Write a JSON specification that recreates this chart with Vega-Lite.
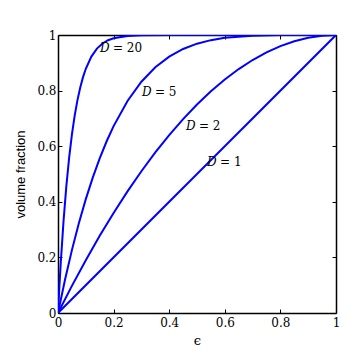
{
  "$schema": "https://vega.github.io/schema/vega-lite/v6.json",
  "autosize": "none",
  "width": 278,
  "height": 278,
  "padding": {"left": 58, "top": 35, "right": 27, "bottom": 46},
  "background": "white",
  "config": {
    "view": {"stroke": null},
    "axis": {
      "grid": false,
      "domainColor": "black",
      "domainWidth": 1.5,
      "tickColor": "black",
      "tickSize": -4,
      "tickWidth": 1,
      "labelFont": "DejaVu Serif",
      "labelFontSize": 12,
      "labelColor": "black",
      "labelFlush": false,
      "titleColor": "black",
      "format": "~g"
    }
  },
  "datasets": {
    "curves": [
      {"eps": 0, "frac": 0, "D": 1}, {"eps": 1, "frac": 1, "D": 1},
      {"eps": 0, "frac": 0, "D": 2}, {"eps": 0.05, "frac": 0.0975, "D": 2}, {"eps": 0.1, "frac": 0.19, "D": 2}, {"eps": 0.15, "frac": 0.2775, "D": 2}, {"eps": 0.2, "frac": 0.36, "D": 2}, {"eps": 0.25, "frac": 0.4375, "D": 2}, {"eps": 0.3, "frac": 0.51, "D": 2}, {"eps": 0.35, "frac": 0.5775, "D": 2}, {"eps": 0.4, "frac": 0.64, "D": 2}, {"eps": 0.45, "frac": 0.6975, "D": 2}, {"eps": 0.5, "frac": 0.75, "D": 2}, {"eps": 0.55, "frac": 0.7975, "D": 2}, {"eps": 0.6, "frac": 0.84, "D": 2}, {"eps": 0.65, "frac": 0.8775, "D": 2}, {"eps": 0.7, "frac": 0.91, "D": 2}, {"eps": 0.75, "frac": 0.9375, "D": 2}, {"eps": 0.8, "frac": 0.96, "D": 2}, {"eps": 0.85, "frac": 0.9775, "D": 2}, {"eps": 0.9, "frac": 0.99, "D": 2}, {"eps": 0.95, "frac": 0.9975, "D": 2}, {"eps": 1, "frac": 1, "D": 2},
      {"eps": 0, "frac": 0, "D": 5}, {"eps": 0.025, "frac": 0.1189, "D": 5}, {"eps": 0.05, "frac": 0.2262, "D": 5}, {"eps": 0.075, "frac": 0.3228, "D": 5}, {"eps": 0.1, "frac": 0.4095, "D": 5}, {"eps": 0.125, "frac": 0.4871, "D": 5}, {"eps": 0.15, "frac": 0.5563, "D": 5}, {"eps": 0.175, "frac": 0.6178, "D": 5}, {"eps": 0.2, "frac": 0.6723, "D": 5}, {"eps": 0.25, "frac": 0.7627, "D": 5}, {"eps": 0.3, "frac": 0.8319, "D": 5}, {"eps": 0.35, "frac": 0.884, "D": 5}, {"eps": 0.4, "frac": 0.9222, "D": 5}, {"eps": 0.45, "frac": 0.9497, "D": 5}, {"eps": 0.5, "frac": 0.96875, "D": 5}, {"eps": 0.55, "frac": 0.9815, "D": 5}, {"eps": 0.6, "frac": 0.9898, "D": 5}, {"eps": 0.7, "frac": 0.9976, "D": 5}, {"eps": 0.8, "frac": 0.9997, "D": 5}, {"eps": 0.9, "frac": 1, "D": 5}, {"eps": 1, "frac": 1, "D": 5},
      {"eps": 0, "frac": 0, "D": 20}, {"eps": 0.005, "frac": 0.0954, "D": 20}, {"eps": 0.01, "frac": 0.1821, "D": 20}, {"eps": 0.02, "frac": 0.3324, "D": 20}, {"eps": 0.03, "frac": 0.4562, "D": 20}, {"eps": 0.04, "frac": 0.558, "D": 20}, {"eps": 0.05, "frac": 0.6415, "D": 20}, {"eps": 0.06, "frac": 0.7099, "D": 20}, {"eps": 0.07, "frac": 0.7658, "D": 20}, {"eps": 0.08, "frac": 0.8113, "D": 20}, {"eps": 0.09, "frac": 0.8484, "D": 20}, {"eps": 0.1, "frac": 0.8784, "D": 20}, {"eps": 0.12, "frac": 0.9224, "D": 20}, {"eps": 0.14, "frac": 0.951, "D": 20}, {"eps": 0.16, "frac": 0.9694, "D": 20}, {"eps": 0.18, "frac": 0.9811, "D": 20}, {"eps": 0.2, "frac": 0.9885, "D": 20}, {"eps": 0.25, "frac": 0.9968, "D": 20}, {"eps": 0.3, "frac": 0.9992, "D": 20}, {"eps": 0.4, "frac": 1, "D": 20}, {"eps": 1, "frac": 1, "D": 20}
    ],
    "labels": [
      {"eps": 0.151, "frac": 0.953, "D": 20, "rhs": "= 20"},
      {"eps": 0.302, "frac": 0.795, "D": 5, "rhs": "= 5"},
      {"eps": 0.46, "frac": 0.673, "D": 2, "rhs": "= 2"},
      {"eps": 0.536, "frac": 0.543, "D": 1, "rhs": "= 1"}
    ]
  },
  "resolve": {"axis": {"x": "independent", "y": "independent"}},
  "layer": [
    {
      "data": {"name": "curves"},
      "mark": {"type": "line", "color": "#0000ff", "strokeWidth": 2, "clip": true},
      "encoding": {
        "x": {"field": "eps", "type": "quantitative", "scale": {"domain": [0, 1], "nice": false},
              "axis": {"values": [0, 0.2, 0.4, 0.6, 0.8, 1], "title": "ϵ", "titleFont": "DejaVu Serif", "titleFontWeight": "normal", "titleFontSize": 13, "titlePadding": 6, "labelPadding": 8}},
        "y": {"field": "frac", "type": "quantitative", "scale": {"domain": [0, 1], "nice": false},
              "axis": {"values": [0, 0.2, 0.4, 0.6, 0.8, 1], "title": "volume fraction", "titleFont": "Liberation Sans", "titleFontWeight": "normal", "titleFontSize": 13, "titlePadding": 9, "labelPadding": 6}},
        "detail": {"field": "D", "type": "nominal"},
        "order": {"field": "eps", "type": "quantitative"}
      }
    },
    {
      "data": {"name": "labels"},
      "mark": {"type": "text", "text": "D", "align": "left", "baseline": "middle", "font": "DejaVu Serif", "fontStyle": "italic", "fontSize": 12, "color": "black"},
      "encoding": {
        "x": {"field": "eps", "type": "quantitative", "axis": {"orient": "top", "values": [0, 0.2, 0.4, 0.6, 0.8, 1], "labels": false, "title": null}},
        "y": {"field": "frac", "type": "quantitative", "axis": {"orient": "right", "values": [0, 0.2, 0.4, 0.6, 0.8, 1], "labels": false, "title": null}}
      }
    },
    {
      "data": {"name": "labels"},
      "mark": {"type": "text", "align": "left", "baseline": "middle", "dx": 13, "font": "DejaVu Serif", "fontSize": 12, "color": "black"},
      "encoding": {
        "x": {"field": "eps", "type": "quantitative", "axis": null},
        "y": {"field": "frac", "type": "quantitative", "axis": null},
        "text": {"field": "rhs"}
      }
    }
  ]
}
